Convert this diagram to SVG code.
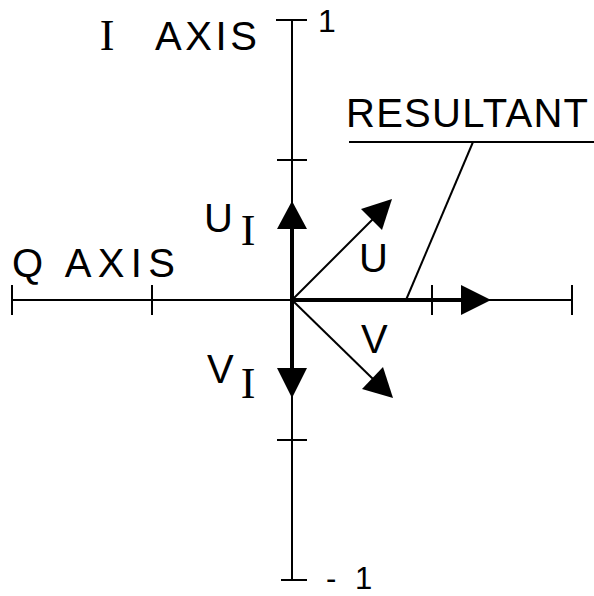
<svg xmlns="http://www.w3.org/2000/svg" width="594" height="596" viewBox="0 0 594 596">
<style>
.ln{stroke:#000;stroke-width:2;fill:none;stroke-linecap:butt}
.thk{stroke:#000;stroke-width:4;fill:none}
.ah{fill:#000;stroke:none}
.t{font-family:"Liberation Sans",Arial,sans-serif;font-size:40px;fill:#000}
.s{font-family:"Liberation Serif","Times New Roman",serif;font-size:44px;fill:#000}
</style>
<rect width="594" height="596" fill="#fff"/>
<g id="axes">
<line class="ln" x1="292" y1="20" x2="292" y2="580"/>
<line class="ln" x1="12" y1="300" x2="572" y2="300"/>
<line class="ln" x1="12" y1="285" x2="12" y2="315"/>
<line class="ln" x1="152" y1="285" x2="152" y2="315"/>
<line class="ln" x1="432" y1="285" x2="432" y2="315"/>
<line class="ln" x1="572" y1="285" x2="572" y2="315"/>
<line class="ln" x1="276" y1="20" x2="307" y2="20"/>
<line class="ln" x1="277" y1="160" x2="307" y2="160"/>
<line class="ln" x1="277" y1="440" x2="307" y2="440"/>
<line class="ln" x1="281" y1="580" x2="307" y2="580"/>
</g>
<g id="connectors">
<line class="thk" x1="292" y1="228" x2="292" y2="369"/>
<line class="thk" x1="292" y1="300" x2="462" y2="300"/>
<line class="ln" x1="292" y1="300" x2="373" y2="219"/>
<line class="ln" x1="292" y1="300" x2="373" y2="379"/>
<line class="ln" x1="473" y1="142" x2="406" y2="300"/>
<line class="ln" x1="349" y1="142" x2="594" y2="142"/>
<polygon class="ah" points="292,201 277,229 307,229"/>
<polygon class="ah" points="292,398 277,368 307,368"/>
<polygon class="ah" points="491,300 461,285 461,315"/>
<polygon class="ah" points="392,199 361,209 382,230"/>
<polygon class="ah" points="393,398 362,389 383,367"/>
</g>
<g id="labels">
<g id="i-axis"><text class="s" x="107" y="50" text-anchor="middle">I</text><text class="t" x="155" y="50" textLength="102" lengthAdjust="spacing">AXIS</text></g>
<text id="one" class="t" x="318" y="32" style="font-size:32px">1</text>
<text id="minus-one" class="t" x="326" y="589" style="font-size:31px">-<tspan dx="10"> 1</tspan></text>
<text id="q-axis" class="t" x="12" y="277" textLength="163" lengthAdjust="spacing">Q AXIS</text>
<text id="resultant" class="t" x="346" y="127" textLength="242" lengthAdjust="spacing">RESULTANT</text>
<g id="ui"><text class="t" x="204" y="232">U</text><text class="s" x="248" y="245" text-anchor="middle">I</text></g>
<g id="vi"><text class="t" x="207" y="383">V</text><text class="s" x="248" y="398" text-anchor="middle">I</text></g>
<text id="u" class="t" x="359" y="272">U</text>
<text id="v" class="t" x="361" y="353">V</text>
</g>
</svg>
